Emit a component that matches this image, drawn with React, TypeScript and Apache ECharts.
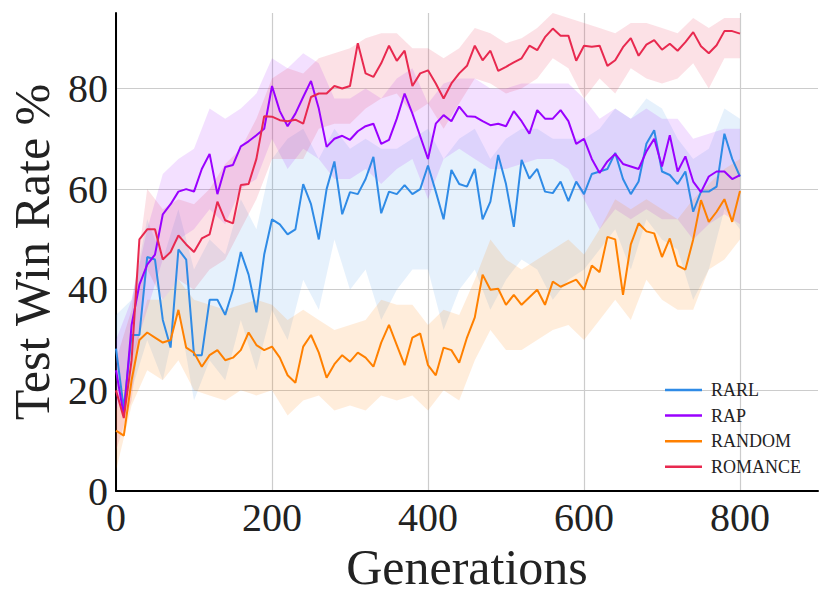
import React, { useEffect, useRef } from "react";
import * as echarts from "echarts";

const LINE_STEP = 10;
const BAND_STEP = 20;
const NAMES = ["RARL", "RAP", "RANDOM", "ROMANCE"];
const COLORS = ["#2f8be6", "#9a00ff", "#ff8000", "#e8294f"];
const BAND_ALPHA = [0.12, 0.12, 0.14, 0.14];
const X_TICKS = [0, 200, 400, 600, 800];
const Y_TICKS = [0, 20, 40, 60, 80];

const RARL = [
  28.3, 16.4, 31, 31, 46.5, 46, 34, 28.5, 48, 46,
  27, 27, 38, 38, 35, 40, 47.5, 43, 35.5, 47,
  54, 53, 51, 52, 61, 57, 50, 60, 65.5, 55,
  59.4, 59, 62, 66.4, 55.2, 59.5, 59, 60.8, 59, 60,
  64.7, 59.5, 54, 63.8, 61, 60.5, 64, 54, 57.5, 66.8,
  61, 52.5, 65.8, 62.1, 64, 59.5, 59.2, 61.5, 57.6, 61.5,
  59, 63, 63.5, 64, 67.2, 62, 59, 61.5, 69, 71.7,
  63.5, 62.8, 61, 63.5, 55.5, 59.5, 59.5, 60.5, 71, 66,
  62.5,
];
const RAP = [
  24, 15, 33, 41, 45, 47, 55, 57, 59.5, 60,
  59.5, 64, 67, 59, 64.4, 64.8, 68.5, 69.5, 70.7, 72,
  80.5, 75.5, 72.5, 75, 78.3, 81.5, 76, 68.4, 70, 70.6,
  69.8, 71.5, 72.5, 73, 69, 69.8, 74, 79, 75, 70.5,
  66, 73, 74.7, 73.5, 76.4, 74.5, 74.4, 73.5, 72.7, 73,
  72.5, 75.5, 73.5, 71, 75.7, 74, 74, 75.7, 73.5, 69,
  70, 66, 63.2, 65.5, 67, 65, 64.5, 64, 67.5, 70,
  64.5, 70.7, 63.5, 66.5, 61.5, 59.4, 62.5, 63.5, 63.5, 62,
  62.8,
];
const RANDOM = [
  12, 11, 22, 30, 31.5, 30.5, 29.5, 30, 36, 28.5,
  27.5, 24.7, 27, 28, 26, 26.5, 28, 31.5, 29, 28,
  28.7, 26.5, 23, 21.5, 28.7, 31, 27.5, 22.5, 25.2, 27,
  25.7, 27.5, 26.5, 24.7, 29.5, 33, 29, 25, 30.5, 31.3,
  25, 23, 28.5, 28, 25.5, 30.5, 34.5, 43, 40, 40.2,
  37, 39, 37, 38.5, 40, 37, 41.6, 40.6, 41.3, 42,
  40, 44.8, 43.5, 50.5, 50, 39, 49, 53.2, 51.6, 51.2,
  46.5, 50.2, 44.8, 44, 50, 57.8, 53.5, 55.5, 58, 53.5,
  59.6,
];
const ROMANCE = [
  20, 14.5, 26, 50, 52, 52, 46, 47.5, 50.8, 49,
  47.5, 50.2, 51, 57.5, 53.8, 53.2, 60.8, 61, 66, 74.5,
  74.4, 73.7, 73.5, 73.8, 73, 78.3, 79, 79, 80.5, 80,
  80.5, 89, 83, 82.3, 85, 88.5, 85.5, 87.5, 80.5, 83,
  83.6, 81, 78, 81, 83, 84.5, 88.5, 85.6, 87.5, 83.5,
  84.3, 85.2, 86, 88.5, 87.6, 90.2, 91.9, 90.5, 90.5, 85.5,
  88.5, 88.3, 88.5, 84.5, 85.6, 88.2, 90, 86.5, 88.7, 89.6,
  87.7, 88.9, 87.5, 89.2, 91.2, 88.4, 87, 88.6, 91.4, 91.4,
  90.9,
];

const RARL_LO = [20, 20, 30, 22, 36, 18, 26, 22, 34, 24, 36, 30, 42, 36, 50, 40, 44, 34, 40, 44, 44, 32, 40, 44, 36, 42, 46, 44, 38, 42, 44, 48, 52, 44, 54, 50, 48, 38, 44, 56, 52];
const RARL_HI = [35, 38, 54, 46, 56, 44, 50, 47, 58, 52, 66, 70, 72, 66, 72, 68, 70, 68, 68, 70, 72, 66, 70, 72, 66, 70, 72, 72, 70, 70, 70, 72, 76, 74, 78, 76, 70, 66, 68, 76, 74];
const RAP_LO = [16, 26, 36, 46, 50, 52, 56, 53, 60, 62, 70, 64, 68, 66, 62, 62, 64, 61, 64, 66, 58, 66, 68, 66, 64, 64, 65, 66, 66, 64, 58, 52, 56, 54, 56, 54, 54, 50, 53, 55, 53];
const RAP_HI = [30, 38, 52, 63, 66, 68, 76, 74, 76, 79, 86, 84, 87, 85, 78, 78, 80, 78, 82, 84, 77, 81, 82, 82, 80, 80, 81, 81, 81, 81, 78, 74, 76, 74, 76, 74, 74, 70, 71, 72, 72];
const RANDOM_LO = [4, 17, 24, 22, 26, 20, 19, 18, 20, 19, 20, 15, 18, 19, 16, 17, 16, 19, 18, 19, 16, 20, 18, 26, 32, 28, 28, 30, 32, 33, 30, 34, 38, 34, 42, 38, 36, 36, 44, 46, 50];
const RANDOM_HI = [16, 26, 38, 38, 42, 38, 37, 36, 37, 38, 37, 34, 36, 34, 32, 33, 34, 38, 37, 37, 33, 36, 35, 42, 50, 46, 44, 46, 48, 50, 47, 52, 58, 56, 58, 56, 54, 58, 61, 64, 66];
const ROMANCE_LO = [8, 18, 44, 38, 42, 40, 44, 46, 52, 58, 66, 66, 66, 72, 73, 73, 76, 78, 79, 75, 77, 72, 77, 82, 81, 79, 80, 82, 86, 84, 78, 82, 79, 84, 82, 81, 82, 85, 80, 86, 86];
const ROMANCE_HI = [26, 36, 60, 56, 58, 57, 60, 65, 68, 74, 82, 84, 83, 86, 87, 88, 90, 91, 91, 88, 88, 86, 88, 92, 91, 89, 90, 92, 95, 94, 93, 92, 91, 93, 93, 92, 91, 94, 92, 94, 94];

const MEANS = [RARL, RAP, RANDOM, ROMANCE];
const LOWS = [RARL_LO, RAP_LO, RANDOM_LO, ROMANCE_LO];
const HIGHS = [RARL_HI, RAP_HI, RANDOM_HI, ROMANCE_HI];

const FONT = "'Liberation Serif', 'Times New Roman', serif";

function hexA(hex: string, a: number) {
  const r = parseInt(hex.slice(1, 3), 16);
  const g = parseInt(hex.slice(3, 5), 16);
  const b = parseInt(hex.slice(5, 7), 16);
  return `rgba(${r},${g},${b},${a})`;
}

export default function App() {
  const ref = useRef<HTMLDivElement>(null);
  useEffect(() => {
    document.body.style.margin = "0";
    if (!ref.current) return;
    const chart = echarts.init(ref.current, undefined, { renderer: "svg" });
    const series: any[] = [];
    NAMES.forEach((name, k) => {
      const lo = LOWS[k];
      const hi = HIGHS[k];
      const items = lo.map((v, i) => [i * BAND_STEP, v, hi[i]]);
      series.push({
        name: name + "_band",
        type: "custom",
        data: items,
        encode: { x: 0, y: [1, 2] },
        silent: true,
        z: 1,
        renderItem: (params: any, api: any) => {
          if (params.dataIndex !== 0) return null;
          const top = items.map((d) => api.coord([d[0], d[2]]));
          const bottom = items.map((d) => api.coord([d[0], d[1]])).reverse();
          return {
            type: "polygon",
            shape: { points: top.concat(bottom) },
            style: { fill: hexA(COLORS[k], BAND_ALPHA[k]), stroke: "none" },
          };
        },
      });
    });
    NAMES.forEach((name, k) => {
      series.push({
        name,
        type: "line",
        data: MEANS[k].map((v, i) => [i * LINE_STEP, v]),
        symbol: "none",
        lineStyle: { color: COLORS[k], width: 2 },
        itemStyle: { color: COLORS[k] },
        z: 3,
      });
    });
    chart.setOption({
      animation: false,
      backgroundColor: "#ffffff",
      grid: { left: 116, right: 12, top: 13, bottom: 112, outerBoundsMode: "none" },
      legend: {
        data: NAMES.map((n) => ({ name: n, icon: "rect" })),
        orient: "vertical",
        left: 660,
        top: 376,
        itemWidth: 37,
        itemHeight: 2.5,
        itemGap: 7.6,
        textStyle: { fontFamily: FONT, fontSize: 18, color: "#222", padding: [0, 0, 0, 4], lineHeight: 18 },
      },
      xAxis: {
        type: "value",
        min: 0,
        max: 900,
        interval: 200,
        name: "Generations",
        nameLocation: "middle",
        nameGap: 44,
        nameTextStyle: { fontFamily: FONT, fontSize: 50, color: "#222" },
        axisLine: { show: true, lineStyle: { color: "#000", width: 2 } },
        axisTick: { show: false },
        axisLabel: {
          fontFamily: FONT,
          fontSize: 40,
          color: "#222",
          margin: 6,
          showMaxLabel: false,
          formatter: (v: number) => (X_TICKS.includes(v) ? String(v) : ""),
        },
        splitLine: { show: true, showMaxLine: false, lineStyle: { color: "#cccccc", width: 1.2 } },
      },
      yAxis: {
        type: "value",
        min: 0,
        max: 95,
        interval: 20,
        name: "Test Win Rate %",
        nameLocation: "middle",
        nameGap: 58,
        nameTextStyle: { fontFamily: FONT, fontSize: 50, color: "#222" },
        axisLine: { show: true, lineStyle: { color: "#000", width: 2 } },
        axisTick: { show: false },
        axisLabel: {
          fontFamily: FONT,
          fontSize: 40,
          color: "#222",
          margin: 8,
          showMaxLabel: false,
          formatter: (v: number) => (Y_TICKS.includes(v) ? String(v) : ""),
        },
        splitLine: { show: true, showMaxLine: false, lineStyle: { color: "#cccccc", width: 1.2 } },
      },
      series,
    });
    return () => chart.dispose();
  }, []);
  return <div ref={ref} style={{ width: 830, height: 603 }} />;
}
